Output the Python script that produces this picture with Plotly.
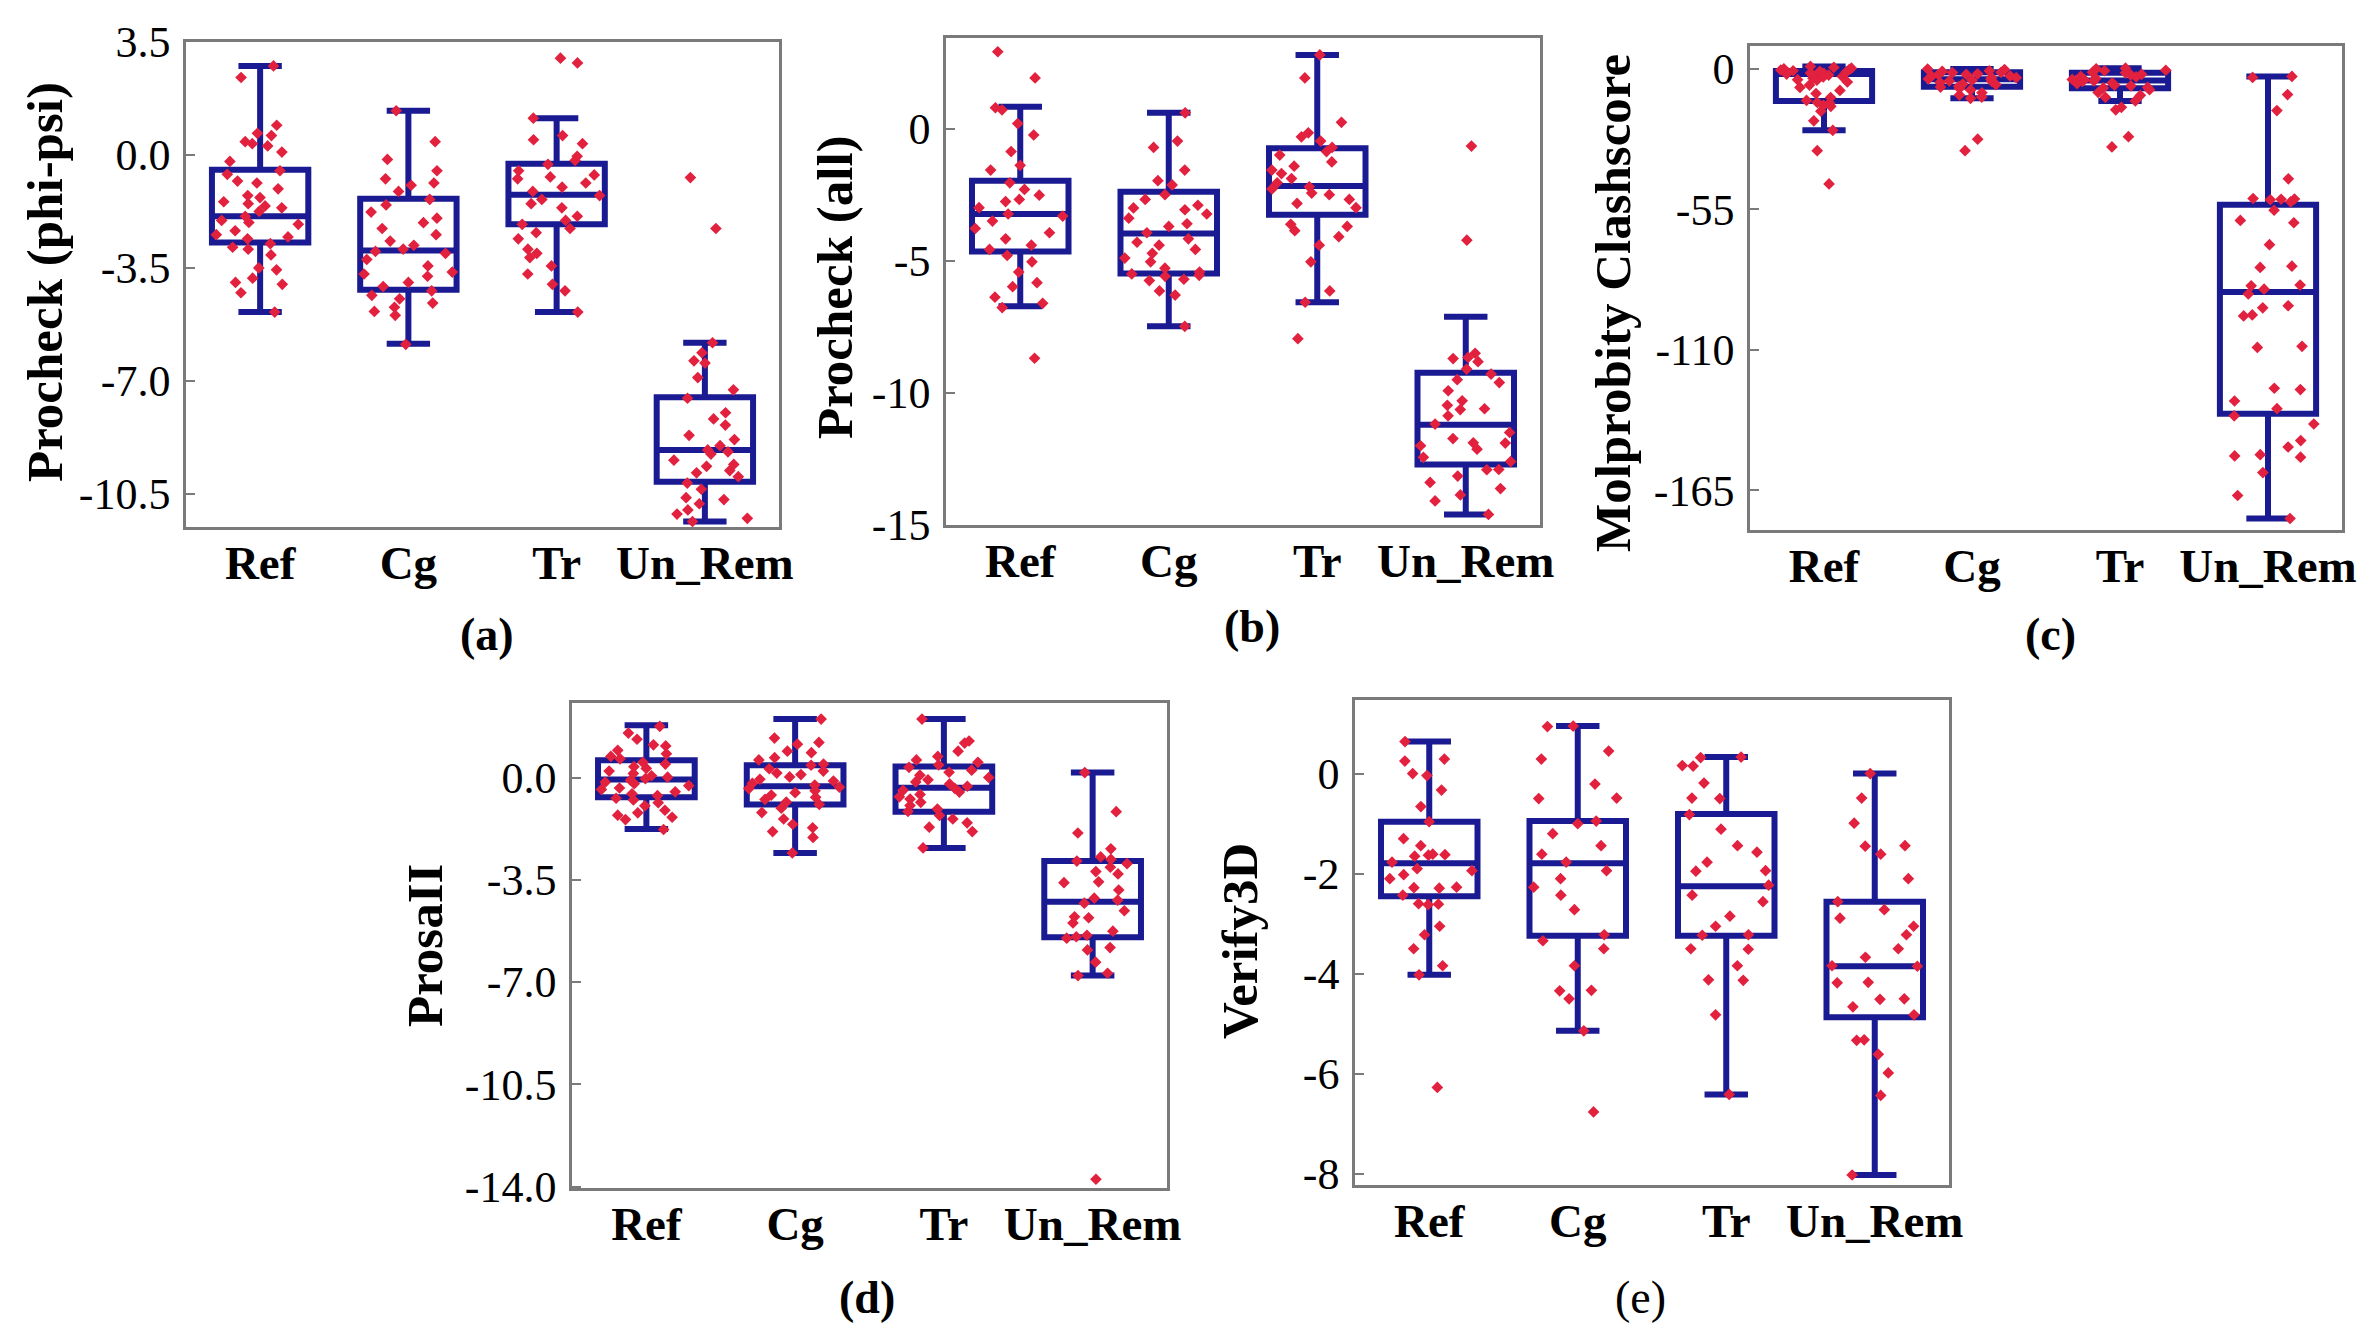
import plotly.graph_objects as go

# Groups shown along every x axis
CATS = ["Ref", "Cg", "Tr", "Un_Rem"]

# ---------------- (a) Procheck (phi-psi) ----------------
a_ref = [2.76, 2.4, 0.92, 0.67, 0.6, 0.41, 0.35, 0.28, 0.09, -0.2, -0.49, -0.6, -0.81, -0.87,
         -1.05, -1.26, -1.32, -1.45, -1.51, -1.58, -1.64, -1.75, -1.9, -2.03, -2.09, -2.15,
         -2.35, -2.47, -2.54, -2.6, -2.75, -2.86, -2.92, -3.1, -3.5, -3.56, -3.82, -3.95,
         -4.01, -4.27, -4.87]
a_cg = [1.37, 0.41, -0.14, -0.49, -0.74, -0.87, -0.94, -1.13, -1.38, -1.55, -1.77, -1.96,
        -2.1, -2.28, -2.47, -2.67, -2.8, -2.92, -2.99, -3.05, -3.24, -3.44, -3.63, -3.69,
        -3.76, -3.95, -4.08, -4.21, -4.35, -4.46, -4.59, -4.72, -4.85, -4.97, -5.87]
a_tr = [3.0, 2.85, 1.14, 0.6, 0.47, 0.35, -0.04, -0.17, -0.29, -0.49, -0.62, -0.68, -0.74,
        -0.87, -1.0, -1.13, -1.26, -1.38, -1.51, -1.64, -1.9, -2.03, -2.15, -2.28, -2.41,
        -2.6, -2.92, -3.05, -3.18, -3.44, -3.69, -4.01, -4.21, -4.87]
a_un = [-0.7, -2.28, -5.82, -6.13, -6.38, -6.45, -6.9, -7.28, -7.54, -7.99, -8.18, -8.37,
        -8.69, -8.82, -9.01, -9.14, -9.2, -9.27, -9.46, -9.59, -9.65, -9.78, -9.85, -9.97,
        -10.17, -10.36, -10.62, -10.68, -10.81, -11.0, -11.13, -11.26, -11.36]
a_lf = [-4.87, -5.85, -4.87, -11.36]
a_q1 = [-2.71, -4.18, -2.15, -10.13]
a_med = [-1.90, -2.96, -1.23, -9.14]
a_q3 = [-0.46, -1.36, -0.27, -7.51]
a_uf = [2.76, 1.37, 1.14, -5.82]

# ---------------- (b) Procheck (all) ----------------
b_ref = [2.91, 1.92, 0.79, 0.71, 0.19, -0.24, -0.87, -1.39, -1.57, -2.05, -2.3, -2.52, -2.68,
         -2.76, -2.99, -3.23, -3.31, -3.5, -3.78, -3.94, -4.17, -4.41, -4.57, -4.8, -5.04,
         -5.43, -5.83, -5.98, -6.38, -6.61, -6.77, -8.69]
b_cg = [0.6, -0.47, -0.71, -1.57, -1.97, -2.13, -2.5, -2.68, -2.9, -3.0, -3.07, -3.23, -3.39,
        -3.6, -3.7, -3.94, -4.17, -4.3, -4.41, -4.57, -4.72, -4.9, -5.04, -5.28, -5.43, -5.5,
        -5.55, -5.59, -5.7, -5.75, -6.14, -6.3, -7.48]
b_tr = [2.79, 1.92, 0.24, -0.16, -0.31, -0.47, -0.71, -0.87, -1.0, -1.26, -1.42, -1.57, -1.7,
        -1.89, -2.05, -2.2, -2.28, -2.44, -2.5, -2.68, -2.83, -2.99, -3.62, -3.7, -3.86, -4.09,
        -4.41, -5.04, -6.14, -6.57, -7.95]
b_un = [-0.66, -4.22, -8.5, -8.66, -8.7, -8.82, -9.1, -9.29, -9.5, -9.61, -9.92, -10.3, -10.47,
        -10.6, -10.63, -10.87, -11.18, -11.5, -11.73, -11.89, -11.9, -12.0, -12.13, -12.44,
        -12.6, -12.9, -12.91, -13.15, -13.39, -13.62, -13.86, -14.09, -14.6]
b_lf = [-6.72, -7.48, -6.57, -14.6]
b_q1 = [-4.65, -5.48, -3.26, -12.71]
b_med = [-3.23, -3.97, -2.17, -11.21]
b_q3 = [-1.97, -2.39, -0.74, -9.24]
b_uf = [0.83, 0.6, 2.79, -7.12]

# ---------------- (c) Molprobity Clashscore ----------------
c_ref = [1.0, 0.6, 0.3, 0.1, -0.2, -0.4, -0.7, -0.9, -1.1, -1.6, -1.7, -2.0, -2.3, -2.4, -2.9,
         -3.1, -3.6, -4.2, -4.4, -5.1, -6.3, -7.2, -8.4, -9.6, -11.2, -12.3, -13.1, -13.4,
         -14.2, -14.6, -16.5, -20.3, -24.0, -32.0, -45.0]
c_cg = [0.0, -0.2, -0.7, -0.9, -1.3, -1.4, -1.9, -2.1, -2.2, -2.7, -2.8, -3.3, -3.4, -3.9,
        -4.0, -4.4, -4.7, -4.9, -5.3, -5.9, -6.1, -6.8, -7.1, -7.6, -8.2, -9.3, -10.2, -11.0,
        -11.5, -27.5, -32.0]
c_tr = [0.3, 0.1, -0.5, -0.7, -1.3, -1.5, -2.1, -2.3, -2.9, -3.1, -3.7, -4.1, -4.2, -4.7,
        -4.9, -5.5, -5.7, -6.3, -6.6, -7.2, -7.4, -8.1, -9.2, -10.3, -11.1, -12.5, -15.0,
        -16.0, -26.5, -30.5]
c_un = [-2.9, -3.3, -10.0, -16.3, -43.0, -50.7, -50.9, -51.0, -51.2, -52.0, -55.3, -59.3,
        -60.2, -68.8, -77.2, -77.7, -84.6, -84.9, -86.2, -88.1, -92.7, -93.5, -96.3, -96.7,
        -108.6, -109.0, -125.0, -125.5, -130.0, -133.0, -135.8, -139.0, -145.5, -148.0,
        -151.0, -151.5, -152.0, -158.0, -167.0, -176.0]
c_lf = [-24.0, -11.5, -12.5, -176.0]
c_q1 = [-12.5, -7.0, -7.5, -135.0]
c_med = [-2.0, -4.0, -4.5, -87.3]
c_q3 = [-0.8, -1.3, -1.5, -53.2]
c_uf = [1.0, 0.0, 0.3, -2.9]

# ---------------- (d) ProsaII ----------------
d_ref = [1.75, 1.52, 1.31, 1.12, 1.08, 0.93, 0.81, 0.72, 0.64, 0.52, 0.46, 0.37, 0.31, 0.22,
         0.14, 0.06, 0.01, -0.04, -0.09, -0.16, -0.21, -0.28, -0.36, -0.41, -0.49, -0.56,
         -0.62, -0.71, -0.77, -0.86, -0.97, -1.12, -1.21, -1.29, -1.36, -1.44, -1.78]
d_cg = [2.0, 1.35, 1.2, 1.14, 0.9, 0.85, 0.68, 0.6, 0.46, 0.42, 0.3, 0.22, 0.15, 0.1, 0.02,
        -0.06, -0.12, -0.2, -0.26, -0.33, -0.38, -0.45, -0.52, -0.6, -0.68, -0.75, -0.84,
        -0.92, -1.05, -1.2, -1.42, -1.6, -1.72, -1.85, -2.05, -2.58]
d_tr = [2.0, 1.25, 1.18, 0.9, 0.72, 0.6, 0.52, 0.43, 0.35, 0.25, 0.18, 0.08, 0.0, -0.08,
        -0.15, -0.22, -0.3, -0.37, -0.44, -0.5, -0.58, -0.66, -0.74, -0.85, -0.96, -1.08,
        -1.16, -1.3, -1.42, -1.55, -1.7, -1.85, -2.41]
d_un = [0.17, -1.17, -1.9, -2.44, -2.72, -2.8, -2.86, -2.95, -3.07, -3.22, -3.3, -3.57, -3.6,
        -3.85, -4.13, -4.2, -4.3, -4.56, -4.77, -4.8, -4.98, -5.26, -5.4, -5.45, -5.5, -5.82,
        -5.9, -6.32, -6.7, -6.78, -13.75]
d_lf = [-1.76, -2.58, -2.41, -6.78]
d_q1 = [-0.68, -0.92, -1.17, -5.47]
d_med = [-0.07, -0.30, -0.35, -4.25]
d_q3 = [0.59, 0.42, 0.38, -2.86]
d_uf = [1.79, 2.0, 2.0, 0.17]

# ---------------- (e) Verify3D ----------------
e_ref = [0.64, 0.29, 0.25, 0.0, -0.04, -0.33, -0.66, -0.96, -1.3, -1.44, -1.61, -1.62, -1.63,
         -1.65, -1.77, -1.9, -1.94, -2.02, -2.1, -2.27, -2.28, -2.29, -2.43, -2.6, -2.61,
         -2.62, -3.05, -3.22, -3.5, -3.84, -4.02, -6.27]
e_cg = [0.95, 0.94, 0.45, 0.29, -0.21, -0.49, -0.5, -0.95, -1.0, -1.2, -1.44, -1.61, -1.77,
        -1.94, -2.1, -2.27, -2.43, -2.72, -3.22, -3.34, -3.5, -3.84, -4.33, -4.34, -4.5,
        -5.14, -6.76]
e_tr = [0.33, 0.32, 0.16, 0.15, -0.19, -0.49, -0.5, -0.82, -1.11, -1.44, -1.57, -1.77, -1.94,
        -1.95, -2.23, -2.43, -2.56, -2.85, -3.05, -3.22, -3.23, -3.5, -3.51, -3.84, -4.12,
        -4.13, -4.82, -6.41]
e_un = [0.0, -0.49, -0.99, -1.44, -1.45, -1.61, -2.1, -2.56, -2.72, -2.89, -3.05, -3.22, -3.5,
        -3.67, -3.84, -3.85, -4.17, -4.18, -4.5, -4.51, -4.66, -4.82, -5.32, -5.33, -5.61,
        -5.98, -6.43, -8.02]
e_lf = [-4.02, -5.14, -6.41, -8.02]
e_q1 = [-2.45, -3.24, -3.24, -4.87]
e_med = [-1.79, -1.79, -2.25, -3.85]
e_q3 = [-0.96, -0.95, -0.81, -2.56]
e_uf = [0.64, 0.95, 0.33, 0.0]

NAVY = "#1a1a92"
RED = "#e2213f"
FRAME = "#7a7a7a"
SERIF = "Liberation Serif"

W, H = 2372, 1327


def px_x(v):
    return v / W


def px_y(v):
    return 1 - v / H


panels = [
    dict(pts=[a_ref, a_cg, a_tr, a_un], st=(a_lf, a_q1, a_med, a_q3, a_uf),
         xd=(186, 779), yd=(42, 527), yr=(-11.53, 3.5),
         tv=[3.5, 0.0, -3.5, -7.0, -10.5], tt=["3.5", "0.0", "-3.5", "-7.0", "-10.5"],
         title="Procheck (phi-psi)", tpos=(45, 282), label="(a)", lpos=(487, 634), lbold=True),
    dict(pts=[b_ref, b_cg, b_tr, b_un], st=(b_lf, b_q1, b_med, b_q3, b_uf),
         xd=(946, 1540), yd=(38, 525), yr=(-15.0, 3.43),
         tv=[0, -5, -10, -15], tt=["0", "-5", "-10", "-15"],
         title="Procheck (all)", tpos=(835, 287), label="(b)", lpos=(1252, 626), lbold=True),
    dict(pts=[c_ref, c_cg, c_tr, c_un], st=(c_lf, c_q1, c_med, c_q3, c_uf),
         xd=(1750, 2342), yd=(46, 530), yr=(-180.5, 9.0),
         tv=[0, -55, -110, -165], tt=["0", "-55", "-110", "-165"],
         title="Molprobity Clashscore", tpos=(1613, 303), label="(c)", lpos=(2050, 634), lbold=True),
    dict(pts=[d_ref, d_cg, d_tr, d_un], st=(d_lf, d_q1, d_med, d_q3, d_uf),
         xd=(572, 1167), yd=(703, 1188), yr=(-14.05, 2.55),
         tv=[0.0, -3.5, -7.0, -10.5, -14.0], tt=["0.0", "-3.5", "-7.0", "-10.5", "-14.0"],
         title="ProsaII", tpos=(425, 946), label="(d)", lpos=(867, 1297), lbold=True),
    dict(pts=[e_ref, e_cg, e_tr, e_un], st=(e_lf, e_q1, e_med, e_q3, e_uf),
         xd=(1355, 1949), yd=(700, 1185), yr=(-8.22, 1.47),
         tv=[0, -2, -4, -6, -8], tt=["0", "-2", "-4", "-6", "-8"],
         title="Verify3D", tpos=(1240, 941), label="(e)", lpos=(1640, 1297), lbold=False),
]

fig = go.Figure()
layout = dict(
    template="none",
    width=W, height=H,
    margin=dict(l=0, r=0, t=0, b=0, pad=0, autoexpand=False),
    paper_bgcolor="white", plot_bgcolor="white",
    showlegend=False,
    font=dict(family=SERIF, color="black"),
)
annotations = []

for i, p in enumerate(panels, start=1):
    sfx = "" if i == 1 else str(i)
    lf, q1, med, q3, uf = p["st"]
    fig.add_trace(go.Box(
        x=CATS, y=p["pts"],
        lowerfence=lf, q1=q1, median=med, q3=q3, upperfence=uf,
        boxpoints="all", jitter=1.0, pointpos=0,
        width=0.65, whiskerwidth=0.45,
        line=dict(color=NAVY, width=6),
        fillcolor="rgba(0,0,0,0)",
        marker=dict(symbol="diamond", size=9, color=RED, line=dict(width=0)),
        xaxis="x" + sfx, yaxis="y" + sfx, hoverinfo="skip",
    ))
    layout["xaxis" + sfx] = dict(
        domain=[px_x(p["xd"][0]), px_x(p["xd"][1])],
        anchor="y" + sfx, type="category", categoryorder="array", categoryarray=CATS,
        range=[-0.5, 3.5], showgrid=False, zeroline=False, automargin=False,
        showline=True, mirror=True, linecolor=FRAME, linewidth=2.5,
        ticks="", tickfont=dict(family=SERIF, size=47, color="black", weight="bold"),
        ticklabelstandoff=-7,
    )
    layout["yaxis" + sfx] = dict(
        domain=[px_y(p["yd"][1]), px_y(p["yd"][0])],
        anchor="x" + sfx, range=list(p["yr"]), showgrid=False, zeroline=False,
        automargin=False,
        showline=True, mirror=True, linecolor=FRAME, linewidth=2.5,
        ticks="inside", ticklen=9, tickwidth=2, tickcolor=FRAME,
        tickvals=p["tv"], ticktext=p["tt"],
        tickfont=dict(family=SERIF, size=44, color="black"),
        ticklabelstandoff=4,
    )
    annotations.append(dict(
        text=p["title"], xref="paper", yref="paper",
        x=px_x(p["tpos"][0]), y=px_y(p["tpos"][1]), xanchor="center", yanchor="middle",
        textangle=-90, showarrow=False,
        font=dict(family=SERIF, size=51, color="black", weight="bold"),
    ))
    annotations.append(dict(
        text=p["label"], xref="paper", yref="paper",
        x=px_x(p["lpos"][0]), y=px_y(p["lpos"][1]), xanchor="center", yanchor="middle",
        showarrow=False,
        font=dict(family=SERIF, size=46, color="black",
                  weight="bold" if p["lbold"] else "normal"),
    ))

layout["annotations"] = annotations
fig.update_layout(**layout)
fig.write_html("out.html")
